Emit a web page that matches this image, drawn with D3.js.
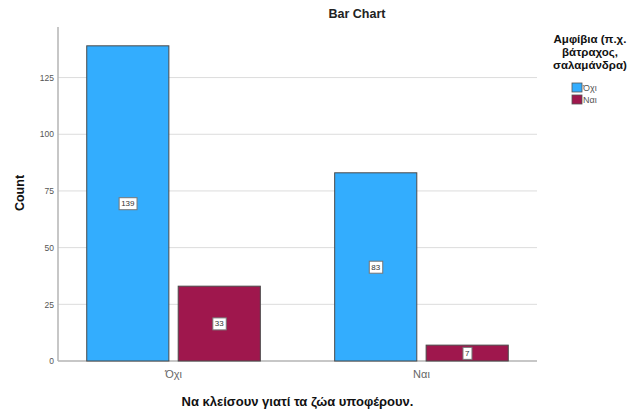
<!DOCTYPE html>
<html><head><meta charset="utf-8">
<script src="https://cdn.jsdelivr.net/npm/d3@7"></script>
<style>body{margin:0;background:#fff}svg{display:block}text{font-family:"Liberation Sans",Arial,sans-serif}</style>
</head><body><svg id="c" width="641" height="414"></svg>
<script>
const categories = ["Όχι", "Ναι"];
const series = ["Όχι", "Ναι"];
const valuesOxi = [139, 83];
const valuesNai = [33, 7];
const yTicks = [0, 25, 50, 75, 100, 125];
const colors = ["#33adfe", "#9f174d"];

const svg = d3.select("#c");
const pLeft = 58, pRight = 537, pTop = 27, pBottom = 361;
const y = d3.scaleLinear().domain([0, 147.3]).range([pBottom, pTop]);
const x0 = d3.scalePoint().domain(categories).range([pLeft, pRight]).padding(0.466);
const x1 = d3.scaleBand().domain(series).range([-86.8, 86.8]).paddingInner(0.102);

// gridlines
svg.append("g").selectAll("line").data(yTicks.filter(d => d > 0)).join("line")
  .attr("x1", pLeft).attr("x2", pRight).attr("y1", d => y(d)).attr("y2", d => y(d))
  .attr("stroke", "#dcdcdc").attr("stroke-width", 1);

// y axis
const yAxis = svg.append("g").attr("transform", `translate(${pLeft},0)`)
  .call(d3.axisLeft(y).tickValues(yTicks).tickSize(0).tickPadding(4));
yAxis.select(".domain").attr("stroke", "#b5b5b5").attr("stroke-width", 1.5).attr("d", `M0,${pTop}V${pBottom}`);
yAxis.selectAll("text").attr("fill", "#555").attr("font-size", 8.5);

// x baseline
svg.append("line").attr("x1", pLeft).attr("x2", pRight).attr("y1", pBottom).attr("y2", pBottom)
  .attr("stroke", "#b5b5b5").attr("stroke-width", 1.5);

// bars
const data = categories.map((c, i) => ({cat: c, vals: [valuesOxi[i], valuesNai[i]]}));
const groups = svg.append("g").selectAll("g").data(data).join("g")
  .attr("transform", d => `translate(${x0(d.cat)},0)`);
groups.selectAll("rect").data(d => d.vals.map((v, j) => ({s: series[j], v, j}))).join("rect")
  .attr("x", d => x1(d.s)).attr("width", x1.bandwidth())
  .attr("y", d => y(d.v)).attr("height", d => y(0) - y(d.v))
  .attr("fill", d => colors[d.j]).attr("stroke", "#4a4a4a").attr("stroke-width", 1);

// data labels
const lab = groups.selectAll("g.lab").data(d => d.vals.map((v, j) => ({s: series[j], v, j}))).join("g")
  .attr("class", "lab")
  .attr("transform", d => `translate(${x1(d.s) + x1.bandwidth() / 2},${(y(d.v) + y(0)) / 2})`);
lab.append("text").attr("text-anchor", "middle").attr("dy", "0.35em")
  .attr("font-size", 8).attr("fill", "#333").text(d => d.v);
lab.each(function () {
  const g = d3.select(this), b = g.select("text").node().getBBox();
  g.insert("rect", "text").attr("x", b.x - 2).attr("y", b.y - 1.5)
    .attr("width", b.width + 4).attr("height", b.height + 3)
    .attr("fill", "#fff").attr("stroke", "#777").attr("stroke-width", 1);
});

// x tick labels
svg.append("g").selectAll("text").data(categories).join("text")
  .attr("x", d => x0(d)).attr("y", pBottom + 17).attr("text-anchor", "middle")
  .attr("font-size", 11).attr("fill", "#666").text(d => d);

// titles
svg.append("text").attr("x", 357).attr("y", 18).attr("text-anchor", "middle")
  .attr("font-size", 12.5).attr("font-weight", "bold").attr("fill", "#222").text("Bar Chart");
svg.append("text").attr("x", (pLeft + pRight) / 2).attr("y", 406).attr("text-anchor", "middle")
  .attr("font-size", 13).attr("font-weight", "bold").attr("fill", "#111")
  .text("Να κλείσουν γιατί τα ζώα υποφέρουν.");
svg.append("text").attr("transform", "translate(24,193) rotate(-90)").attr("text-anchor", "middle")
  .attr("font-size", 12.5).attr("font-weight", "bold").attr("fill", "#111").text("Count");

// legend
const legTitle = ["Αμφίβια (π.χ.", "βάτραχος,", "σαλαμάνδρα)"];
svg.append("g").selectAll("text").data(legTitle).join("text")
  .attr("x", 590).attr("y", (d, i) => 43 + i * 13).attr("text-anchor", "middle")
  .attr("font-size", 11.5).attr("font-weight", "bold").attr("fill", "#111").text(d => d);
const li = svg.append("g").selectAll("g").data(series).join("g")
  .attr("transform", (d, i) => `translate(572,${83 + i * 12})`);
li.append("rect").attr("width", 10).attr("height", 9).attr("fill", (d, i) => colors[i])
  .attr("stroke", "#555").attr("stroke-width", 0.8);
li.append("text").attr("x", 11).attr("y", 8).attr("font-size", 9).attr("fill", "#555").text(d => d);
</script></body></html>
